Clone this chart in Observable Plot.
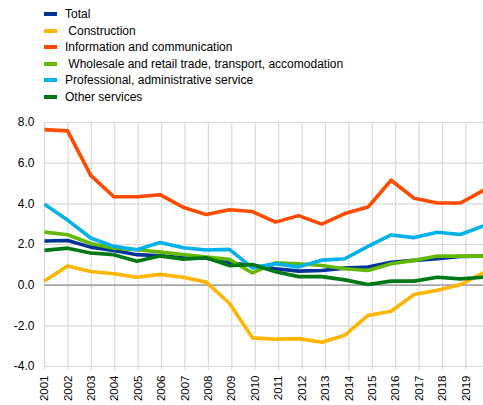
<!DOCTYPE html>
<html><head><meta charset="utf-8">
<script src="https://cdn.jsdelivr.net/npm/d3@7"></script>
<script src="https://cdn.jsdelivr.net/npm/@observablehq/plot@0.6"></script>
<style>
body{margin:0;background:#fff;font-family:Arial,"Liberation Sans",sans-serif;}
#legend{position:relative;height:110px;width:483px;}
.item{position:absolute;left:44px;height:16px;display:flex;align-items:center;font-size:12px;color:#000;white-space:pre;}
.sw{width:13px;height:4px;margin-right:8px;flex:none;}
#chart svg{display:block;}
</style></head><body>
<div id="legend"></div><div id="chart"></div>
<script>
// data points (annual, 20 observations)
const years = [2001,2002,2003,2004,2005,2006,2007,2008,2009,2010,2011,2012,2013,2014,2015,2016,2017,2018,2019,2020];
const tickYears = [2001,2002,2003,2004,2005,2006,2007,2008,2009,2010,2011,2012,2013,2014,2015,2016,2017,2018,2019];
const seriesNames = ["Total"," Construction","Information and communication"," Wholesale and retail trade, transport, accomodation","Professional, administrative service","Other services"];
const seriesColors = ["#003299","#ffb400","#ff4b00","#65b800","#00b1ea","#007816"];
const total        = [2.17,2.20,1.87,1.71,1.50,1.45,1.35,1.33,1.10,0.97,0.81,0.69,0.72,0.84,0.89,1.13,1.22,1.30,1.41,1.43];
const construction = [0.20,0.94,0.67,0.56,0.39,0.53,0.39,0.15,-0.89,-2.59,-2.66,-2.63,-2.81,-2.46,-1.49,-1.28,-0.46,-0.25,0.02,0.60];
const info         = [7.65,7.59,5.40,4.35,4.35,4.45,3.83,3.47,3.71,3.62,3.10,3.42,3.00,3.52,3.84,5.16,4.27,4.04,4.04,4.66];
const wholesale    = [2.61,2.48,2.05,1.82,1.74,1.63,1.51,1.38,1.27,0.60,1.10,1.05,0.97,0.81,0.72,1.05,1.22,1.43,1.43,1.43];
const professional = [3.98,3.20,2.32,1.91,1.74,2.10,1.84,1.73,1.76,0.85,1.06,0.90,1.23,1.30,1.91,2.47,2.34,2.60,2.49,2.91];
const other        = [1.71,1.82,1.58,1.50,1.18,1.43,1.28,1.35,0.96,1.02,0.66,0.42,0.42,0.26,0.03,0.20,0.20,0.39,0.31,0.39];
const yTicks = [-4,-2,0,2,4,6,8];

const allSeries = [total, construction, info, wholesale, professional, other];
const rows = [];
allSeries.forEach((vals, s) => vals.forEach((v, i) => rows.push({year: years[i], value: v, series: seriesNames[s]})));

// legend
const leg = document.getElementById("legend");
seriesNames.forEach((name, i) => {
  const it = document.createElement("div");
  it.className = "item";
  it.style.top = (6 + i * 16.6) + "px";
  const sw = document.createElement("span");
  sw.className = "sw"; sw.style.background = seriesColors[i];
  const tx = document.createElement("span");
  tx.textContent = name;
  it.appendChild(sw); it.appendChild(tx);
  leg.appendChild(it);
});

// category axis: year gridlines are spaced slightly wider than the data points (date axis)
const span = (years[years.length-1] - years[0]);
const tickPos = tickYears.map(t => years[0] + (t - years[0]) * span / (span - 0.25));
const labelByPos = new Map(tickPos.map((p, i) => [p, String(tickYears[i])]));

const chart = Plot.plot({
  width: 483, height: 295,
  marginLeft: 44, marginRight: 0, marginTop: 12, marginBottom: 39,
  style: {fontFamily: "Arial, 'Liberation Sans', sans-serif", fontSize: "11px", color: "#000", background: "#fff"},
  x: {domain: [years[0], years[years.length-1]], axis: null, label: null},
  y: {domain: [-4, 8], axis: null, label: null},
  color: {domain: seriesNames, range: seriesColors},
  marks: [
    Plot.ruleY(yTicks.filter(d => d !== 0), {stroke: "#d9d9d9", strokeWidth: 1.2}),
    Plot.ruleX(tickPos, {y1: -4, y2: 8, stroke: "#d9d9d9", strokeWidth: 1.2}),
    Plot.ruleY([0], {stroke: "#a6a6a6", strokeWidth: 1.6}),
    Plot.line(rows, {x: "year", y: "value", z: "series", stroke: "series", strokeWidth: 3.6, strokeLinejoin: "round", strokeLinecap: "butt"}),
    Plot.axisY({ticks: yTicks, label: null, tickSize: 0, tickPadding: 10, tickFormat: d => d.toFixed(1), fontSize: 12}),
    Plot.axisX({ticks: tickPos, label: null, tickRotate: -90, tickSize: 4, tickPadding: 5, stroke: "#d9d9d9", tickFormat: d => labelByPos.get(d), fontSize: 11.5})
  ]
});
document.getElementById("chart").appendChild(chart);
</script>
</body></html>
